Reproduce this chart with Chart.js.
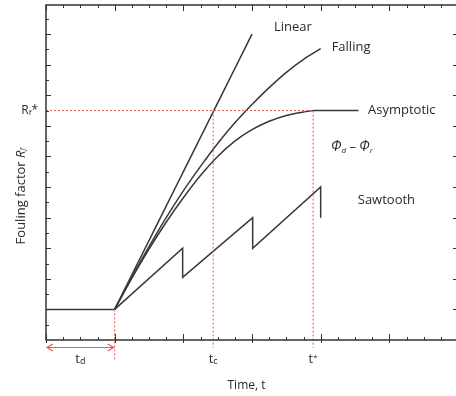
<!DOCTYPE html>
<html><head><meta charset="utf-8">
<script src="https://cdn.jsdelivr.net/npm/chart.js@4.4.1/dist/chart.umd.min.js"></script>
<style>html,body{margin:0;padding:0;background:#fff;overflow:hidden}#wrap{width:460px;height:396px}</style>
</head><body><div id="wrap"><canvas id="c" width="460" height="396"></canvas></div>
<script>
// Time (x, in major tick units) and fouling factor (y, in minor tick units)
const delayX = [0, 1];
const delayY = [2, 2];
const linearX = [1, 3];
const linearY = [2, 20];
const fallingX = [1, 1.25, 1.5, 1.75, 2, 2.25, 2.5, 2.75, 3, 3.25, 3.5, 3.75, 4];
const fallingY = [2, 4.1, 6.1, 8.0, 9.75, 11.35, 12.85, 14.2, 15.4, 16.5, 17.5, 18.35, 19.05];
const asympX = [1, 1.25, 1.5, 1.75, 2, 2.25, 2.5, 2.75, 3, 3.25, 3.5, 3.75, 3.92, 4.55];
const asympY = [2, 4.05, 5.95, 7.7, 9.3, 10.75, 12.0, 13.0, 13.75, 14.3, 14.68, 14.9, 15, 15];
const sawX = [1, 1.99, 1.99, 3.01, 3.01, 4, 4];
const sawY = [2, 6, 4.1, 8, 6, 10, 8];
const rfStar = 15;
const tD = 1, tC = 2.435, tStar = 3.89;
const xMax = 6, yMax = 21.9;

const pts = (xs, ys) => xs.map((x, i) => ({x, y: ys[i]}));
const LINE = '#383838', RED = '#e8575a', TXT = '#2a2a2a';

function solid(data, smooth) {
  return {data, borderColor: LINE, borderWidth: 1.5, pointRadius: 0, showLine: true,
    tension: smooth ? 0.4 : 0, cubicInterpolationMode: smooth ? 'monotone' : 'default', fill: false};
}
function dotted(data) {
  return {data, borderColor: RED, borderWidth: 1, borderDash: [2, 2], pointRadius: 0,
    showLine: true, tension: 0, fill: false, clip: false};
}

const decor = {
  id: 'decor',
  afterDatasetsDraw(chart) {
    const ctx = chart.ctx, xs = chart.scales.x, ys = chart.scales.y, a = chart.chartArea;
    const X = v => xs.getPixelForValue(v), Y = v => ys.getPixelForValue(v);
    ctx.save();
    ctx.strokeStyle = '#333'; ctx.lineWidth = 1.5;
    ctx.strokeRect(a.left, a.top, a.right - a.left, a.bottom - a.top);
    ctx.lineWidth = 1;
    ctx.beginPath();
    for (let i = 0; i <= xMax * 4; i++) {
      const v = i / 4, px = Math.round(X(v)) + 0.5, major = i % 4 === 0;
      ctx.moveTo(px, a.bottom + (major ? 3 : 0)); ctx.lineTo(px, a.bottom - (major ? 6 : 3));
      ctx.moveTo(px, a.top); ctx.lineTo(px, a.top + (major ? 6 : 3));
    }
    for (let v = 1; v < yMax; v++) {
      const py = Math.round(Y(v)) + 0.5, major = v % 2 === 0;
      ctx.moveTo(a.left, py); ctx.lineTo(a.left + (major ? 5 : 3), py);
      if (major) { ctx.moveTo(a.right, py); ctx.lineTo(a.right - 5, py); }
    }
    ctx.stroke();
    const ay = a.bottom + 7.5, x0 = X(0) + 1, x1 = X(tD) - 1;
    ctx.strokeStyle = RED; ctx.lineWidth = 1.2;
    ctx.beginPath();
    ctx.moveTo(x0, ay); ctx.lineTo(x1, ay);
    ctx.moveTo(x0 + 6, ay - 3.5); ctx.lineTo(x0, ay); ctx.lineTo(x0 + 6, ay + 3.5);
    ctx.moveTo(x1 - 6, ay - 3.5); ctx.lineTo(x1, ay); ctx.lineTo(x1 - 6, ay + 3.5);
    ctx.stroke();
    ctx.fillStyle = TXT; ctx.textBaseline = 'middle';
    const F = (s, it) => (it ? 'italic ' : '') + s + 'px "Open Sans", sans-serif';
    function rich(parts, x, y, align) {
      let w = 0;
      parts.forEach(p => { ctx.font = F(p.s, p.i); w += ctx.measureText(p.t).width; });
      let cx = align === 'center' ? x - w / 2 : align === 'right' ? x - w : x;
      ctx.textAlign = 'left';
      parts.forEach(p => { ctx.font = F(p.s, p.i); ctx.fillText(p.t, cx, y + (p.dy || 0)); cx += ctx.measureText(p.t).width; });
    }
    rich([{t: 'Linear', s: 13}], X(3.32), Y(20.46), 'left');
    rich([{t: 'Falling', s: 13}], X(4.16), Y(19.15), 'left');
    rich([{t: 'Asymptotic', s: 13}], X(4.69), Y(rfStar), 'left');
    rich([{t: 'Φ', s: 14, i: true}, {t: 'd', s: 8, i: true, dy: 3}, {t: ' – ', s: 13}, {t: 'Φ', s: 14, i: true}, {t: 'r', s: 8, i: true, dy: 3}], X(4.15), Y(12.6), 'left');
    rich([{t: 'Sawtooth', s: 13}], X(4.54), Y(9.15), 'left');
    rich([{t: 'R', s: 12}, {t: 'f', s: 8, dy: 2}, {t: '*', s: 12}], a.left - 8, Y(rfStar), 'right');
    const ty = a.bottom + 19;
    rich([{t: 't', s: 13}, {t: 'd', s: 9, dy: 2}], X(tD / 2), ty, 'center');
    rich([{t: 't', s: 13}, {t: 'c', s: 9, dy: 2}], X(tC), ty, 'center');
    rich([{t: 't', s: 13}, {t: '*', s: 8, dy: -1}], X(tStar), ty, 'center');
    rich([{t: 'Time, t', s: 12}], X(2.92), a.bottom + 46, 'center');
    ctx.save();
    ctx.translate(21, Y(9.4)); ctx.rotate(-Math.PI / 2);
    rich([{t: 'Fouling factor ', s: 13}, {t: 'R', s: 13, i: true}, {t: 'f', s: 8, i: true, dy: 2}], 0, 0, 'center');
    ctx.restore();
    ctx.restore();
  }
};

new Chart(document.getElementById('c'), {
  type: 'scatter',
  data: {datasets: [
    dotted(pts([0, tStar], [rfStar, rfStar])),
    dotted(pts([tD, tD], [delayY[1], -1.4])),
    dotted(pts([tC, tC], [rfStar, -0.5])),
    dotted(pts([tStar, tStar], [rfStar, -0.5])),
    solid(pts(delayX, delayY), false),
    solid(pts(linearX, linearY), false),
    solid(pts(fallingX, fallingY), true),
    solid(pts(asympX, asympY), true),
    solid(pts(sawX, sawY), false)
  ]},
  options: {
    responsive: false, animation: false, devicePixelRatio: 1,
    layout: {padding: {left: 46, top: 5, right: 2, bottom: 56}},
    plugins: {legend: {display: false}, tooltip: {enabled: false}},
    scales: {
      x: {type: 'linear', min: 0, max: xMax, display: false},
      y: {type: 'linear', min: 0, max: yMax, display: false}
    }
  },
  plugins: [decor]
});
</script></body></html>
